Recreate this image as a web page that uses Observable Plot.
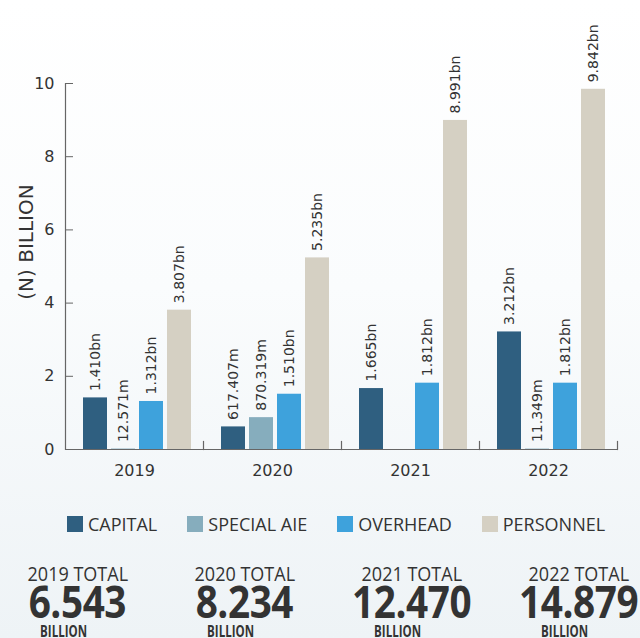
<!DOCTYPE html>
<html>
<head>
<meta charset="utf-8">
<script src="https://cdn.jsdelivr.net/npm/d3@7"></script>
<script src="https://cdn.jsdelivr.net/npm/@observablehq/plot@0.6"></script>
<style>
  html, body { margin: 0; padding: 0; }
  body {
    width: 640px; height: 638px; overflow: hidden; position: relative;
    background: linear-gradient(to bottom, #ffffff 0%, #fafcfd 45%, #eef3f6 100%);
    font-family: "Open Sans", sans-serif; color: #333;
  }
  #chart { position: absolute; left: 0; top: 0; }
  svg text.vlabel { letter-spacing: 1px; }
  #ylabel {
    position: absolute; left: 26px; top: 242px;
    transform: translate(-50%, -50%) rotate(-90deg);
    font-family: "DejaVu Sans", sans-serif; font-size: 20px; line-height: 20px;
    white-space: nowrap; color: #333;
  }
  #legend {
    position: absolute; top: 515px; left: 67px;
    display: flex; align-items: center; font-size: 18px; line-height: 18px;
  }
  .item { display: flex; align-items: center; margin-right: 30px; }
  .sw { width: 16px; height: 16px; margin-right: 5px; }
  #totals {
    position: absolute; top: 561px; left: -6px;
    display: grid; grid-template-columns: repeat(4, 167px);
  }
  .col { text-align: center; }
  .t1 { font-size: 20px; line-height: 25px; display: inline-block; transform: scaleX(0.9); }
  .t2 { font-size: 44px; font-weight: 700; line-height: 30px; display: inline-block; transform: scaleX(0.88); letter-spacing: -0.5px; }
  .t3 { font-size: 16px; font-weight: 700; line-height: 16px; display: inline-block; transform: scaleX(0.72); position: relative; left: -14px; top: 4px; }
  .r1 { height: 25px; } .r2 { height: 30px; } .r3 { height: 16px; }
</style>
</head>
<body>
<div id="chart"></div>
<div id="ylabel">(N) BILLION</div>
<div id="legend"></div>
<div id="totals"></div>
<script>
const years = ["2019", "2020", "2021", "2022"];
const categories = ["CAPITAL", "SPECIAL AIE", "OVERHEAD", "PERSONNEL"];
const capital = [1.410, 0.617407, 1.665, 3.212];
const specialAIE = [0.012571, 0.870319, null, 0.011349];
const overhead = [1.312, 1.510, 1.812, 1.812];
const personnel = [3.807, 5.235, 8.991, 9.842];
const capitalLabels = ["1.410bn", "617.407m", "1.665bn", "3.212bn"];
const specialLabels = ["12.571m", "870.319m", null, "11.349m"];
const overheadLabels = ["1.312bn", "1.510bn", "1.812bn", "1.812bn"];
const personnelLabels = ["3.807bn", "5.235bn", "8.991bn", "9.842bn"];
const totals = ["6.543", "8.234", "12.470", "14.879"];
const yTicks = [0, 2, 4, 6, 8, 10];
const colors = ["#2f5f80", "#86adbd", "#3ea2dc", "#d5d0c3"];

const seriesValues = [capital, specialAIE, overhead, personnel];
const seriesLabels = [capitalLabels, specialLabels, overheadLabels, personnelLabels];
const rows = [];
years.forEach((year, i) => {
  categories.forEach((category, j) => {
    const v = seriesValues[j][i];
    if (v != null) rows.push({year, category, value: v, label: seriesLabels[j][i]});
  });
});

const axisColor = "#666";
const plot = Plot.plot({
  width: 640,
  height: 495,
  marginTop: 83,
  marginBottom: 46,
  marginLeft: 64,
  marginRight: 23,
  style: {background: "transparent", fontFamily: "DejaVu Sans", color: "#333"},
  fx: {domain: years, padding: 0, label: null},
  x: {domain: categories, paddingInner: 0.15, paddingOuter: 0.5, align: 0.6, axis: null},
  y: {domain: [0, 10], axis: null},
  color: {domain: categories, range: colors},
  marks: [
    Plot.barY(rows, {fx: "year", x: "category", y: "value", fill: "category"}),
    Plot.text(rows, {fx: "year", x: "category", y: "value", text: "label", rotate: -90,
      textAnchor: "start", dy: -7, fontSize: 14, fill: "#333", className: "vlabel"}),
    Plot.ruleY([0], {stroke: axisColor, strokeWidth: 1.2}),
    Plot.frame({anchor: "left", facetAnchor: "left", stroke: axisColor, strokeWidth: 1.2}),
    Plot.frame({anchor: "right", insetTop: 358, stroke: axisColor, strokeWidth: 1.2}),
    Plot.axisY({ticks: yTicks, tickSize: 8, dx: 8, tickPadding: 11, fontSize: 16, label: null, stroke: axisColor, fill: "#333"}),
    Plot.axisFx({anchor: "bottom", tickSize: 0, tickPadding: 15, fontSize: 16, label: null, fill: "#333"})
  ]
});
document.getElementById("chart").appendChild(plot);

const legend = document.getElementById("legend");
categories.forEach((c, j) => {
  const item = document.createElement("div");
  item.className = "item";
  const sw = document.createElement("div");
  sw.className = "sw";
  sw.style.background = colors[j];
  const t = document.createElement("span");
  t.textContent = c;
  item.appendChild(sw);
  item.appendChild(t);
  legend.appendChild(item);
});

const tot = document.getElementById("totals");
years.forEach((y, i) => {
  const col = document.createElement("div");
  col.className = "col";
  col.innerHTML = `<div class="r1"><span class="t1">${y} TOTAL</span></div>` +
    `<div class="r2"><span class="t2">${totals[i]}</span></div>` +
    `<div class="r3"><span class="t3">BILLION</span></div>`;
  tot.appendChild(col);
});
</script>
</body>
</html>
